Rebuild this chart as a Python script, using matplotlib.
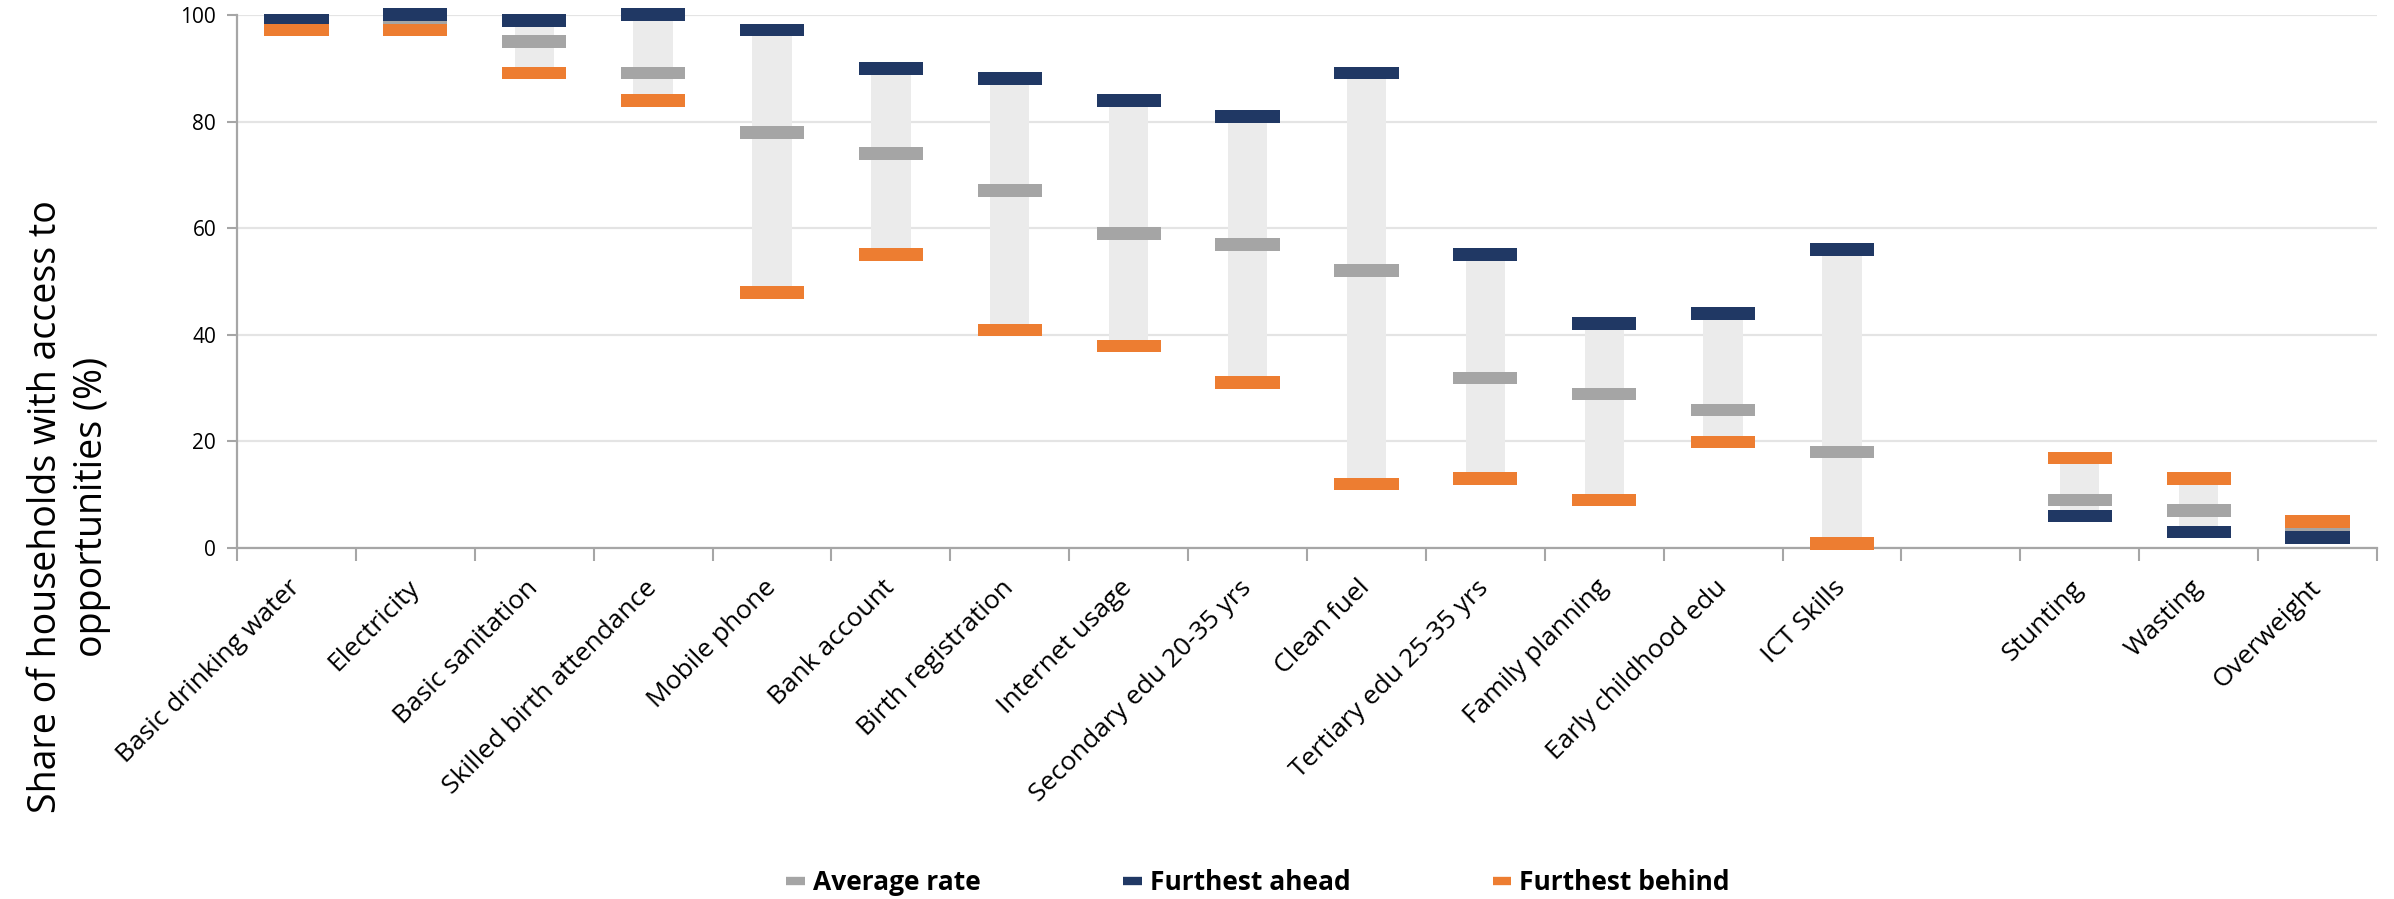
import numpy as np
import matplotlib
matplotlib.use("Agg")
import matplotlib.pyplot as plt
from matplotlib.lines import Line2D

# Indicators (an empty slot separates access indicators from nutrition outcomes)
categories = [
    "Basic drinking water", "Electricity", "Basic sanitation",
    "Skilled birth attendance", "Mobile phone", "Bank account",
    "Birth registration", "Internet usage", "Secondary edu 20-35 yrs",
    "Clean fuel", "Tertiary edu 25-35 yrs", "Family planning",
    "Early childhood edu", "ICT Skills", "", "Stunting", "Wasting", "Overweight",
]

average_rate = [98.0, 97.7, 95.1, 89.1, 77.9, 74.0, 67.1, 59.0, 56.9, 52.0,
                31.9, 28.9, 25.9, 18.0, None, 9.0, 7.0, 2.5]
furthest_ahead = [99.0, 100.1, 99.0, 100.1, 97.2, 90.0, 88.1, 84.0, 81.0, 89.1,
                  55.0, 42.1, 44.0, 56.0, None, 6.0, 3.0, 1.9]
furthest_behind = [97.2, 97.2, 89.1, 84.0, 47.9, 55.0, 40.9, 37.9, 31.0, 12.0,
                   13.0, 9.0, 19.9, 0.9, None, 16.9, 13.0, 4.9]

yticks = [0, 20, 40, 60, 80, 100]

c_avg = "#A5A5A5"
c_ahead = "#203864"
c_behind = "#ED7D31"
c_range = "#EBEBEB"
c_axis = "#A6A6A6"
c_grid = "#E4E4E4"

FONT = ["Open Sans", "DejaVu Sans"]
plt.rcParams["font.family"] = FONT

fig = plt.figure(figsize=(23.94, 8.99), dpi=100)
ax = fig.add_axes([237 / 2394, 1 - 548 / 899, (2377 - 237) / 2394, (548 - 15) / 899])

x_all = np.arange(len(categories))
valid = [i for i, v in enumerate(average_rate) if v is not None]
xv = x_all[valid]
avg = np.array([average_rate[i] for i in valid])
ahead = np.array([furthest_ahead[i] for i in valid])
behind = np.array([furthest_behind[i] for i in valid])

lo = np.minimum(ahead, behind)
hi = np.maximum(ahead, behind)

# Spread between the two extreme groups
ax.bar(xv, hi - lo, bottom=lo, width=0.33, color=c_range, zorder=2, linewidth=0)

# Each rate drawn as a thick dash centred on its value
mark_h = 2.4
mark_w = 0.54
for vals, col in [(avg, c_avg), (ahead, c_ahead), (behind, c_behind)]:
    bars = ax.bar(xv, np.full_like(vals, mark_h), bottom=vals - mark_h / 2,
                  width=mark_w, color=col, zorder=3, linewidth=0)
    for b in bars:
        b.set_clip_on(False)

ax.set_xlim(-0.5, len(categories) - 0.5)
ax.set_ylim(0, 100)
ax.set_yticks(yticks)
ax.set_yticklabels([str(t) for t in yticks], fontsize=15)
ax.yaxis.grid(True, color=c_grid, linewidth=1.6, zorder=0)
ax.set_axisbelow(True)

ax.set_xticks(x_all)
ax.set_xticklabels(categories, rotation=45, ha="right", va="center",
                   rotation_mode="anchor", fontsize=19)
ax.set_xticks(np.arange(-0.5, len(categories), 1.0), minor=True)
ax.tick_params(axis="x", which="major", length=0, pad=26)
ax.tick_params(axis="x", which="minor", length=9, width=1.5, color=c_axis, direction="out")
ax.tick_params(axis="y", length=7, width=1.5, color=c_axis, pad=8)

for s in ["top", "right"]:
    ax.spines[s].set_visible(False)
for s in ["left", "bottom"]:
    ax.spines[s].set_color(c_axis)
    ax.spines[s].set_linewidth(1.6)

fig.text(69 / 2394, 1 - 507 / 899,
         "Share of households with access to\nopportunities (%)",
         rotation=90, ha="center", va="center", multialignment="center",
         fontsize=27, linespacing=1.25)

handles = [
    Line2D([], [], color=c_avg, lw=6, solid_capstyle="butt"),
    Line2D([], [], color=c_ahead, lw=6, solid_capstyle="butt"),
    Line2D([], [], color=c_behind, lw=6, solid_capstyle="butt"),
]
fig.legend(handles, ["Average rate", "Furthest ahead", "Furthest behind"],
           loc="center", bbox_to_anchor=(1258 / 2394, 1 - 883 / 899), ncol=3,
           frameon=False, prop={"size": 19, "weight": "bold"},
           handlelength=0.7, handletextpad=0.3, columnspacing=5.4,
           borderpad=0, borderaxespad=0)

fig.savefig("out.png", dpi=100, facecolor="white")
